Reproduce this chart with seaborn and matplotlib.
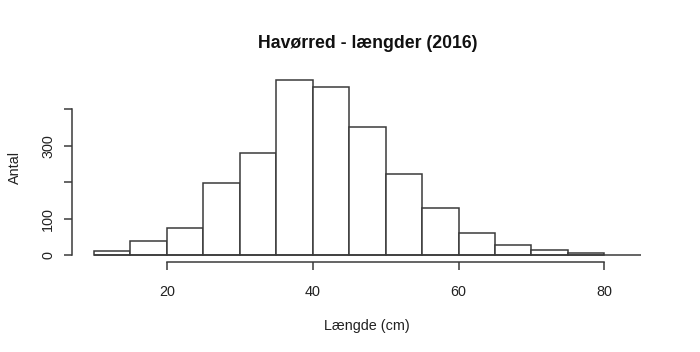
import numpy as np
import pandas as pd
import matplotlib
matplotlib.use("Agg")
import matplotlib.pyplot as plt
import seaborn as sns

# Histogram data (bin width 5 cm)
bin_edges = [10, 15, 20, 25, 30, 35, 40, 45, 50, 55, 60, 65, 70, 75, 80]
counts = [13, 40, 76, 198, 281, 481, 462, 353, 223, 129, 62, 27, 15, 5]
x_ticks = [20, 40, 60, 80]
y_ticks = [0, 100, 200, 300, 400]
y_tick_labels = ["0", "100", "", "300", ""]

title = "Havørred - længder (2016)"
x_label = "Længde (cm)"
y_label = "Antal"

sns.set_style("white")
plt.rcParams["font.family"] = ["Liberation Sans", "DejaVu Sans"]

line_col = "#3a3a3a"
txt_col = "#222222"

df = pd.DataFrame({
    "mid": [(a + b) / 2 for a, b in zip(bin_edges[:-1], bin_edges[1:])],
    "n": counts,
})

fig = plt.figure(figsize=(7.0, 3.52), dpi=100)
ax = fig.add_axes([0.1029, 0.2548, 0.8438, 0.5384])

sns.histplot(data=df, x="mid", weights="n", bins=bin_edges, ax=ax,
             color="white", edgecolor=line_col, linewidth=1.1, alpha=1)

# baseline like the R plot
ax.hlines(0, bin_edges[0], 85, color=line_col, linewidth=1.1)

ax.set_xlim(7, 88)
ax.set_ylim(-19.2, 500.2)

for s in ["top", "right"]:
    ax.spines[s].set_visible(False)
for s in ["left", "bottom"]:
    ax.spines[s].set_color(line_col)
    ax.spines[s].set_linewidth(1.1)
ax.spines["left"].set_bounds(y_ticks[0], y_ticks[-1])
ax.spines["bottom"].set_bounds(x_ticks[0], x_ticks[-1])

ax.set_xticks(x_ticks)
ax.set_yticks(y_ticks)
ax.set_yticklabels(y_tick_labels, rotation=90, va="center")
ax.tick_params(axis="both", direction="out", length=6, width=1.1,
               color=line_col, labelsize=10.4, labelcolor=txt_col,
               left=True, bottom=True)
ax.tick_params(axis="x", pad=10)
ax.tick_params(axis="y", pad=6)

ax.set_xlabel(x_label, fontsize=10.4, color=txt_col, labelpad=15)
ax.set_ylabel(y_label, fontsize=10.4, color=txt_col, labelpad=14)
ax.set_title(title, fontsize=12.7, fontweight="bold", color="#111111", pad=18)

fig.savefig("out.png", dpi=100)
